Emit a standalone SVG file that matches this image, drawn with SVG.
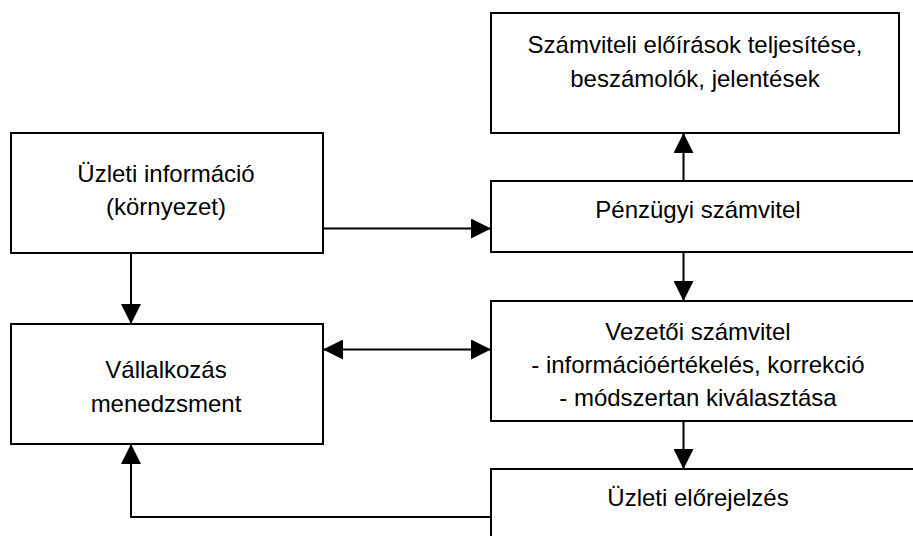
<svg xmlns="http://www.w3.org/2000/svg" width="913" height="536" viewBox="0 0 913 536">
<style>
.box{fill:#fff;stroke:#000;stroke-width:2}
.t{font-family:"Liberation Sans",Arial,sans-serif;font-size:24px;fill:#000;text-anchor:middle}
.c{fill:none;stroke:#000;stroke-width:2}
</style>
<defs>
<marker id="ah" markerUnits="userSpaceOnUse" markerWidth="20" markerHeight="20" refX="20" refY="10" orient="auto-start-reverse" viewBox="0 0 20 20">
<path d="M0,0 L20,10 L0,20 Z" fill="#000"/>
</marker>
</defs>
<rect width="913" height="536" fill="#fff"/>
<g id="connectors">
<path class="c" d="M323,228.5 H491" marker-end="url(#ah)"/>
<path class="c" d="M131,253 V324" marker-end="url(#ah)"/>
<path class="c" d="M323,349.5 H491" marker-start="url(#ah)" marker-end="url(#ah)"/>
<path class="c" d="M683.5,181 V133" marker-end="url(#ah)"/>
<path class="c" d="M683.5,252 V301" marker-end="url(#ah)"/>
<path class="c" d="M683.5,421 V469" marker-end="url(#ah)"/>
<path class="c" d="M491,517 H131 V444" marker-end="url(#ah)"/>
</g>
<g id="szamviteli-eloirasok">
<rect class="box" x="491" y="13" width="408" height="120"/>
<text class="t" x="695" y="52.5">Számviteli előírások teljesítése,</text>
<text class="t" x="695" y="86.5">beszámolók, jelentések</text>
</g>
<g id="uzleti-informacio">
<rect class="box" x="11" y="133" width="312" height="120"/>
<text class="t" x="166" y="182">Üzleti információ</text>
<text class="t" x="166" y="215">(környezet)</text>
</g>
<g id="penzugyi-szamvitel">
<rect class="box" x="491" y="181" width="440" height="71"/>
<text class="t" x="698" y="218">Pénzügyi számvitel</text>
</g>
<g id="vallalkozas-menedzsment">
<rect class="box" x="11" y="324" width="312" height="120"/>
<text class="t" x="166" y="377.5">Vállalkozás</text>
<text class="t" x="166" y="411.5">menedzsment</text>
</g>
<g id="vezetoi-szamvitel">
<rect class="box" x="491" y="301" width="440" height="120"/>
<text class="t" x="698" y="340">Vezetői számvitel</text>
<text class="t" x="698" y="373">- információértékelés, korrekció</text>
<text class="t" x="698" y="406">- módszertan kiválasztása</text>
</g>
<g id="uzleti-elorejelzes">
<rect class="box" x="491" y="469" width="440" height="100"/>
<text class="t" x="698" y="506">Üzleti előrejelzés</text>
</g>
</svg>
